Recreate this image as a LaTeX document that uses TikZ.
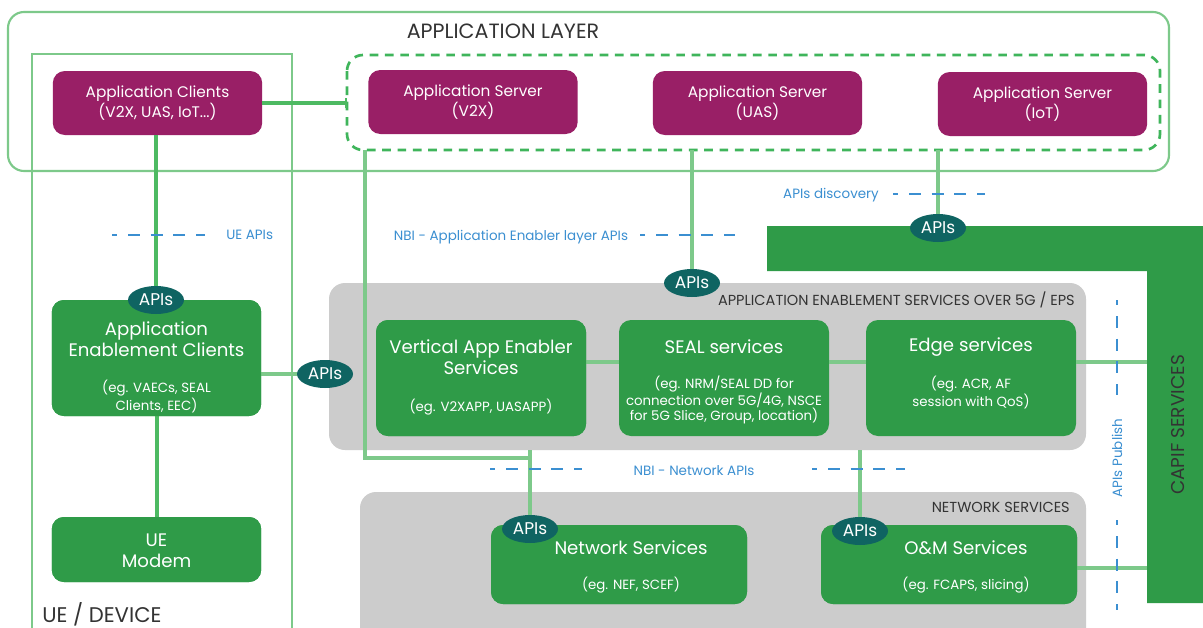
\documentclass[tikz,border=0pt]{standalone}
\usepackage{fontspec}
\setmainfont{Poppins}
\usetikzlibrary{arrows.meta,shapes.geometric}
\definecolor{lgreen}{HTML}{7DC98A}
\definecolor{mgreen}{HTML}{4DBA62}
\definecolor{dgreen}{HTML}{2F9B48}
\definecolor{dashgreen}{HTML}{3FB55B}
\definecolor{purp}{HTML}{991F66}
\definecolor{apiteal}{HTML}{0F6462}
\definecolor{nbiblue}{HTML}{3B8FD1}
\definecolor{graybox}{HTML}{CCCCCC}
\definecolor{txtgray}{HTML}{333333}
\tikzset{
  purpbox/.style={fill=purp, rounded corners=9pt, minimum width=157pt, minimum height=48pt, text=white, align=center, inner sep=0pt, font=\fontsize{11.5}{15}\selectfont},
  greenbox/.style={fill=dgreen, rounded corners=9pt, inner sep=0pt},
  apis/.style={ellipse, fill=apiteal, minimum width=42pt, minimum height=21pt, inner sep=0pt, text=white, font=\fontsize{12.75}{14}\selectfont},
  bigtxt/.style={text=white, align=center, inner sep=0pt, font=\fontsize{13.6}{15.75}\selectfont},
  smalltxt/.style={text=white, align=center, inner sep=0pt, font=\fontsize{10}{11.25}\selectfont},
  bluetxt/.style={text=nbiblue, inner sep=0pt, font=\fontsize{10.1}{11}\selectfont},
  bluedash/.style={draw=nbiblue, line width=2.2pt, dash pattern=on 9pt off 8pt, dash phase=5pt},
  lline/.style={draw=lgreen, line width=3pt},
  mline/.style={draw=mgreen, line width=3pt},
  graytitle/.style={text=txtgray, inner sep=0pt, font=\fontsize{10.9}{12}\selectfont}
}
\begin{document}
\begin{tikzpicture}[x=0.75pt,y=-0.75pt]
\useasboundingbox[fill=white] (0,0) rectangle (1203,628);

% Application layer
\draw[lgreen, line width=1.6pt, rounded corners=12pt] (8,12) rectangle (1169,171);
\node[text=txtgray, inner sep=0pt, font=\fontsize{15.5}{18}\selectfont] (altitle) at (503,31) {APPLICATION LAYER};

% UE / Device
\draw[lgreen, line width=1.6pt] (32,640) -- (32,54) -- (292,54) -- (292,640);
\node[anchor=west, text=txtgray, inner sep=0pt, font=\fontsize{15.9}{18}\selectfont] (uedev) at (42,614) {UE / DEVICE};

% dashed server group
\draw[dashgreen, line width=2pt, dash pattern=on 6.5pt off 5pt, rounded corners=12pt] (347,55) rectangle (1160,150);

% gray containers
\fill[graybox, rounded corners=12pt] (329,283) rectangle (1086,450);
\node[anchor=east, graytitle] (aestitle) at (1075,300) {APPLICATION ENABLEMENT SERVICES OVER 5G / EPS};
\fill[graybox, rounded corners=12pt] (360,492) rectangle (1086,660);
\node[anchor=east, graytitle] (nstitle) at (1070,507) {NETWORK SERVICES};

% CAPIF
\fill[dgreen] (767,226) -- (1203,226) -- (1203,603) -- (1147,603) -- (1147,271) -- (767,271) -- cycle;
\node[rotate=90, text=txtgray, inner sep=0pt, font=\fontsize{13.9}{15}\selectfont] (capif) at (1178,425) {CAPIF SERVICES};
\coordinate (capifA) at (1147,362);
\coordinate (capifB) at (1147,568);

% boxes
\node[purpbox] (appc) at (157.5,103) {Application Clients\\(V2X, UAS, IoT...)};
\node[purpbox] (asv2x) at (473,102) {Application Server\\(V2X)};
\node[purpbox] (asuas) at (757.5,103) {Application Server\\(UAS)};
\node[purpbox] (asiot) at (1042.5,104) {Application Server\\(IoT)};

\node[greenbox, minimum width=157pt, minimum height=87pt] (aec) at (156.5,358) {};
\node[greenbox, minimum width=157pt, minimum height=48.75pt] (modem) at (156.5,549.5) {};
\node[greenbox, minimum width=157.5pt, minimum height=87pt] (vae) at (481,378) {};
\node[greenbox, minimum width=157.5pt, minimum height=87pt] (seal) at (724,378) {};
\node[greenbox, minimum width=157.5pt, minimum height=87pt] (edge) at (971,378) {};
\node[greenbox, minimum width=192pt, minimum height=59.25pt] (ns) at (619,564.5) {};
\node[greenbox, minimum width=192pt, minimum height=59.25pt] (om) at (949,564.5) {};

% connector coordinates
\coordinate (grpL) at (347,103);
\coordinate (d1) at (365,150);
\coordinate (c1) at (530,458);
\coordinate (aesb1) at (530,450);
\coordinate (aesb2) at (860,450);
\coordinate (duas) at (692,150);
\coordinate (diot) at (938,150);

% APIs ellipses (positions)
\path (156,300) coordinate (p1) (325,374) coordinate (p2) (692,283) coordinate (p3)
      (938,228) coordinate (p4) (530,529) coordinate (p5) (860,531) coordinate (p6);

% connectors
\draw[mline, -{Bar[width=7.5pt,line width=1.3pt]}] (appc.east |- grpL) -- (grpL);
\draw[mline] (appc.south -| p1) -- (p1);
\draw[mline] (aec.south) -- (modem.north);
\draw[lline] (aec.east |- p2) -- (p2);
\draw[lline] (d1) |- (c1);
\draw[lline] (aesb1) -- (p5);
\draw[lline] (aesb2) -- (p6);
\draw[lline] (duas) -- (p3);
\draw[lline] (diot) -- (p4);
\draw[lline] (vae.east |- capifA) -- (seal.west |- capifA);
\draw[lline] (seal.east |- capifA) -- (edge.west |- capifA);
\draw[lline] (edge.east |- capifA) -- (capifA);
\draw[lline] (om.east |- capifB) -- (capifB);

% redraw boxes over lines
\node[greenbox, minimum width=157pt, minimum height=87pt] at (aec) {};
\node[greenbox, minimum width=157pt, minimum height=48.75pt] at (modem) {};
\node[greenbox, minimum width=157.5pt, minimum height=87pt] at (vae) {};
\node[greenbox, minimum width=192pt, minimum height=59.25pt] at (ns) {};
\node[greenbox, minimum width=192pt, minimum height=59.25pt] at (om) {};

% APIs nodes
\node[apis] (api1) at (p1) {APIs};
\node[apis] (api2) at (p2) {APIs};
\node[apis] (api3) at (p3) {APIs};
\node[apis] (api4) at (p4) {APIs};
\node[apis] (api5) at (p5) {APIs};
\node[apis] (api6) at (p6) {APIs};

% box texts
\node[bigtxt] (aect) at (156.5,339.5) {Application\\Enablement Clients};
\node[smalltxt] (aecs) at (156.5,396.5) {(eg. VAECs, SEAL\\Clients, EEC)};
\node[bigtxt] (modemt) at (156.5,550.5) {UE\\Modem};
\node[bigtxt] (vaet) at (481,357.5) {Vertical App Enabler\\Services};
\node[smalltxt] (vaes) at (481,407) {(eg. V2XAPP, UASAPP)};
\node[bigtxt] (sealt) at (724,347) {SEAL services};
\node[smalltxt] (seals) at (724,400) {(eg. NRM/SEAL DD for\\connection over 5G/4G, NSCE\\for 5G Slice, Group, location)};
\node[bigtxt] (edget) at (971,347) {Edge services};
\node[smalltxt] (edges) at (971,392.5) {(eg. ACR, AF\\session with QoS)};
\node[bigtxt] (nst) at (631,548) {Network Services};
\node[smalltxt] (nss) at (631,585) {(eg. NEF, SCEF)};
\node[bigtxt] (omt) at (966,548) {O\&M Services};
\node[smalltxt] (oms) at (966,585) {(eg. FCAPS, slicing)};

% blue API labels and dashes
\draw[bluedash] (112,235) coordinate (ua1) -- (205,235) coordinate (ua2);
\node[bluetxt, anchor=west] (ueapis) at (226,235) {UE APIs};
\node[bluetxt] (nbiapp) at (511,237) {NBI - Application Enabler layer APIs};
\draw[bluedash] (640,235) coordinate (nb1) -- (735,235) coordinate (nb2);
\node[bluetxt] (disc) at (831,195) {APIs discovery};
\draw[bluedash] (893,194) coordinate (ds1) -- (985,194) coordinate (ds2);
\node[bluetxt] (nbinet) at (694,471) {NBI - Network APIs};
\draw[bluedash] (490,469) coordinate (nn1) -- (582,469) coordinate (nn2);
\draw[bluedash] (812,469) coordinate (nn3) -- (905,469) coordinate (nn4);
\node[bluetxt, rotate=90] (publish) at (1117,458) {APIs Publish};
\draw[bluedash] (1117,300) coordinate (pb1) -- (1117,395) coordinate (pb2);
\draw[bluedash] (1117,520) coordinate (pb3) -- (1117,610) coordinate (pb4);
\end{tikzpicture}
\end{document}
